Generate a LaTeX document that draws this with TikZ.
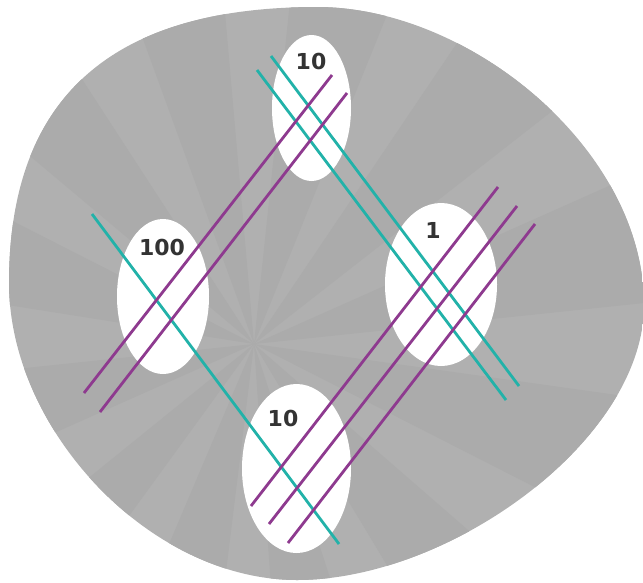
\documentclass[tikz,border=0pt]{standalone}
\usepackage{fontspec}
\setmainfont{DejaVu Sans}
\usetikzlibrary{calc,shapes.geometric}
\definecolor{blobLight}{HTML}{B0B0B0}
\definecolor{blobDark}{HTML}{ABABAB}
\definecolor{tealLine}{HTML}{22B2A9}
\definecolor{purpleLine}{HTML}{8E3A8F}
\definecolor{labelGray}{HTML}{333333}

\begin{document}
\begin{tikzpicture}[x=1pt,y=-1pt,
    hole/.style={ellipse,fill=white,draw=none,inner sep=0pt},
    weight/.style={text=labelGray,font=\bfseries\fontsize{22}{26}\selectfont,inner sep=0pt},
    tline/.style={tealLine,line width=2.8pt},
    pline/.style={purpleLine,line width=2.8pt}]
  \useasboundingbox (0,0) rectangle (643,582);
  \clip (0,0) rectangle (643,582);
  % gray blob with its faint sunburst
  \coordinate (ctr) at (254,344);
  \begin{scope}
    \clip (9,283) .. controls (9,90) and (120,7) .. (317,7)
      .. controls (470,7) and (644,150) .. (644,305)
      .. controls (644,440) and (450,580) .. (297,580)
      .. controls (150,580) and (9,430) .. (9,283) -- cycle;
    \fill[blobLight] (0,0) rectangle (643,582);
    \foreach \a/\b in {6/24,38/56,68/84,95/110,123/140,153/171,186/204,
                       219/234,247/263,274/288,301/319,333/352}
      \fill[blobDark] (ctr) -- ($(ctr)+(-\a:900)$) -- ($(ctr)+(-\b:900)$) -- cycle;
  \end{scope}
  % white holes
  \node[hole,minimum width=79pt,minimum height=146pt] (top) at (311.5,108) {};
  \node[hole,minimum width=92pt,minimum height=155pt] (left) at (163,296.5) {};
  \node[hole,minimum width=112pt,minimum height=163pt] (right) at (441,284.5) {};
  \node[hole,minimum width=109pt,minimum height=169pt] (bottom) at (296.5,468.5) {};
  % teal lines
  \draw[tline] (92,214) -- (339,544);
  \draw[tline] (271,56) -- (519,386);
  \draw[tline] (257,70) -- (506,400);
  % purple lines
  \draw[pline] (332,75) -- (84,393);
  \draw[pline] (347,93) -- (100,412);
  \draw[pline] (498,187) -- (251,506);
  \draw[pline] (517,206) -- (269,524);
  \draw[pline] (535,224) -- (288,543);
  % weights
  \node[weight] (wtop) at (311,61) {10};
  \node[weight] (wleft) at (162,247) {100};
  \node[weight] (wright) at (433,230) {1};
  \node[weight] (wbottom) at (283,418) {10};
\end{tikzpicture}
\end{document}
